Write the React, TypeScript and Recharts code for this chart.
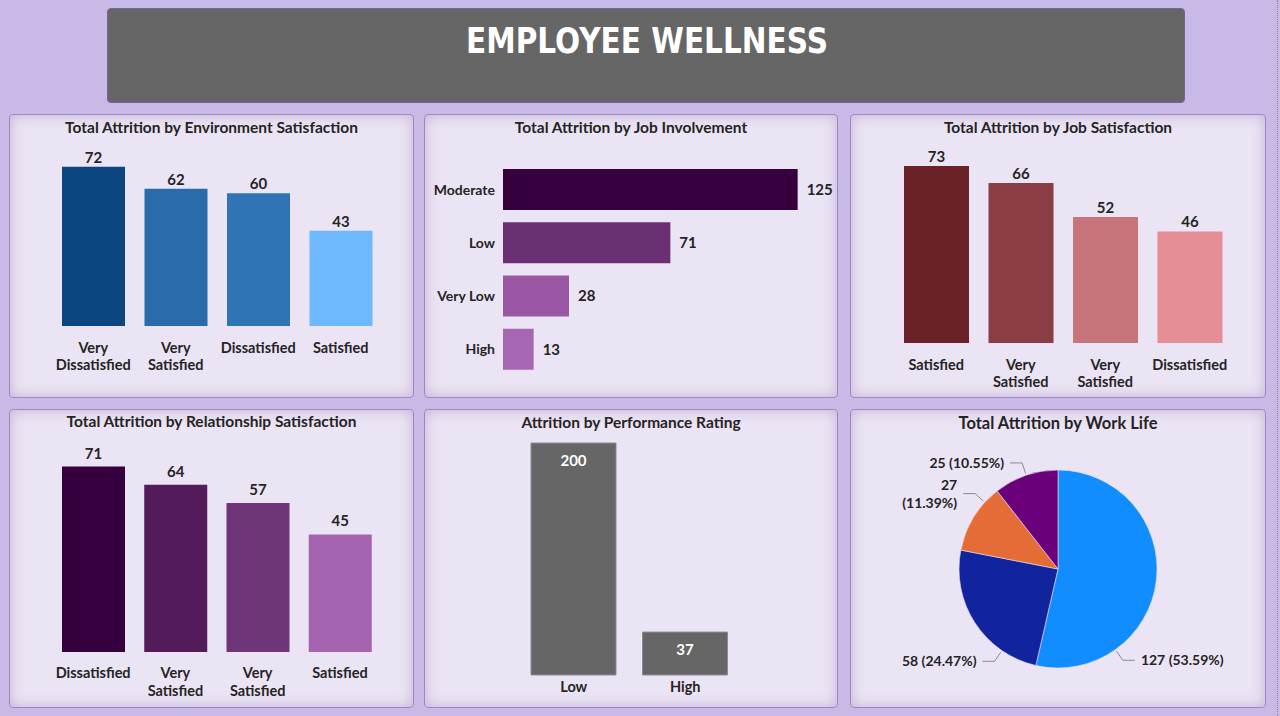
import { Bar, BarChart, Cell, LabelList, Pie, PieChart, XAxis, YAxis } from 'recharts'

// data
const envCategories = ['Very Dissatisfied', 'Very Satisfied', 'Dissatisfied', 'Satisfied']
const envValues = [72, 62, 60, 43]

const involvementCategories = ['Moderate', 'Low', 'Very Low', 'High']
const involvementValues = [125, 71, 28, 13]

const jobSatCategories = ['Satisfied', 'Very Satisfied', 'Very Satisfied', 'Dissatisfied']
const jobSatValues = [73, 66, 52, 46]

const relCategories = ['Dissatisfied', 'Very Satisfied', 'Very Satisfied', 'Satisfied']
const relValues = [71, 64, 57, 45]

const perfCategories = ['Low', 'High']
const perfValues = [200, 37]

const workLifeCategories = ['Better', 'Good', 'Best', 'Bad']
const workLifeValues = [127, 58, 27, 25]

// colours
const envColors = ['#0b4680', '#2a6cab', '#2f75b5', '#6eb8ff']
const involvementColors = ['#36003f', '#6b3074', '#9a58a4', '#a766b1']
const jobSatColors = ['#6a2128', '#8a3d45', '#c8747b', '#e58e96']
const relColors = ['#36003f', '#531b59', '#6f3579', '#a464af']
const workLifeColors = ['#118dff', '#12239e', '#e66c37', '#6b007b']

// label placement for the pie (degrees, 0 = right, counter-clockwise)
const pieLabelAngles = [-54.6, -124.5, 137.7, 108.7]
const pieLabelWrap = [false, false, true, false]

const toRows = (cats: string[], vals: number[]) =>
	cats.map((name, i) => ({ name, value: vals[i] }))

const TEXT = '#252423'
const FONT = 'Lato, "Open Sans", sans-serif'
const VALUE_SIZE = 15

const Panel = ({
	left,
	top,
	width,
	height,
	title,
	titleTop = 2,
	titleSize = 15.5,
	children,
}: {
	left: number
	top: number
	width: number
	height: number
	title: string
	titleTop?: number
	titleSize?: number
	children: React.ReactNode
}) => (
	<div
		style={{
			position: 'absolute',
			left,
			top,
			width,
			height,
			boxSizing: 'border-box',
			border: '1px solid #a284c8',
			borderRadius: 4,
			background: '#ebe4f5',
			boxShadow: 'inset 0 0 14px rgba(110, 90, 145, 0.35)',
		}}
	>
		<div
			style={{
				position: 'absolute',
				left: 0,
				right: 0,
				top: titleTop,
				textAlign: 'center',
				fontSize: titleSize,
				fontWeight: 700,
				color: TEXT,
				lineHeight: '20px',
			}}
		>
			{title}
		</div>
		<div style={{ position: 'absolute', left: 0, top: 0 }}>{children}</div>
	</div>
)

const StackedTick = (props: any) => {
	const { x, y, payload, firstDy, lineGap } = props
	const words = String(payload.value).split(' ')
	return (
		<text x={x} y={y} textAnchor='middle' fill={TEXT} fontSize={14.5} fontWeight={700}>
			{words.map((w, i) => (
				<tspan key={i} x={x} dy={i === 0 ? firstDy : lineGap}>
					{w}
				</tspan>
			))}
		</text>
	)
}

const ColumnChart = ({
	rows,
	colors,
	width,
	height,
	margin,
	axisHeight,
	max,
	barSize,
	labelOffset,
	firstDy,
	lineGap,
}: {
	rows: { name: string; value: number }[]
	colors: string[]
	width: number
	height: number
	margin: { top: number; right: number; left: number; bottom: number }
	axisHeight: number
	max: number
	barSize: number
	labelOffset: number
	firstDy: number
	lineGap: number
}) => (
	<BarChart width={width} height={height} data={rows} margin={margin}>
		<XAxis
			dataKey='name'
			height={axisHeight}
			tickLine={false}
			axisLine={false}
			tickSize={0}
			tickMargin={0}
			interval={0}
			tick={p => <StackedTick {...p} firstDy={firstDy} lineGap={lineGap} />}
		/>
		<YAxis hide width={0} domain={[0, max]} />
		<Bar dataKey='value' barSize={barSize} isAnimationActive={false}>
			{rows.map((r, i) => (
				<Cell key={i} fill={colors[i]} />
			))}
			<LabelList
				dataKey='value'
				position='top'
				offset={labelOffset}
				fill={TEXT}
				fontSize={VALUE_SIZE}
				fontWeight={700}
			/>
		</Bar>
	</BarChart>
)

const renderPieLabel = (props: any) => {
	const { cx, cy, outerRadius, index, value, percent } = props
	const a = (pieLabelAngles[index] * Math.PI) / 180
	const sx = cx + (outerRadius + 2) * Math.cos(a)
	const sy = cy - (outerRadius + 2) * Math.sin(a)
	const ex = cx + (outerRadius + 13) * Math.cos(a)
	const ey = cy - (outerRadius + 13) * Math.sin(a)
	const dir = Math.cos(a) >= 0 ? 1 : -1
	const hx = ex + dir * 12
	const tx = hx + dir * 6
	const pct = `(${(percent * 100).toFixed(2)}%)`
	const anchor = dir > 0 ? 'start' : 'end'
	return (
		<g key={`lbl-${index}`}>
			<polyline
				points={`${sx},${sy} ${ex},${ey} ${hx},${ey}`}
				fill='none'
				stroke='#8c8a90'
				strokeWidth={1}
			/>
			{pieLabelWrap[index] ? (
				<text x={tx} y={ey} textAnchor={anchor} fill={TEXT} fontSize={14} fontWeight={700}>
					<tspan x={tx} dy={-4}>
						{value}
					</tspan>
					<tspan x={tx} dy={18}>
						{pct}
					</tspan>
				</text>
			) : (
				<text
					x={tx}
					y={ey}
					dy={5}
					textAnchor={anchor}
					fill={TEXT}
					fontSize={14}
					fontWeight={700}
				>
					{`${value} ${pct}`}
				</text>
			)}
		</g>
	)
}

export default function App() {
	const envRows = toRows(envCategories, envValues)
	const involvementRows = toRows(involvementCategories, involvementValues)
	const jobSatRows = toRows(jobSatCategories, jobSatValues)
	const relRows = toRows(relCategories, relValues)
	const perfRows = toRows(perfCategories, perfValues)
	const workLifeRows = toRows(workLifeCategories, workLifeValues)

	return (
		<div
			style={{
				position: 'absolute',
				left: 0,
				top: 0,
				width: 1280,
				height: 716,
				overflow: 'hidden',
				background: '#c9b9e6',
				fontFamily: FONT,
			}}
		>
			{/* header */}
			<div
				style={{
					position: 'absolute',
					left: 107,
					top: 8,
					width: 1078,
					height: 95,
					boxSizing: 'border-box',
					background: '#666666',
					border: '1px solid #6f67a4',
					borderRadius: 4,
				}}
			>
				<svg width={1076} height={93} style={{ display: 'block' }}>
					<text
						x={539}
						y={44}
						textAnchor='middle'
						fill='#ffffff'
						fontSize={36}
						fontWeight={700}
						fontFamily='"Comic Sans MS", "DejaVu Sans", sans-serif'
						textLength={362}
						lengthAdjust='spacingAndGlyphs'
					>
						EMPLOYEE WELLNESS
					</text>
				</svg>
			</div>

			<div
				style={{
					position: 'absolute',
					left: 1277,
					top: 0,
					height: 716,
					borderLeft: '1px dotted #8a8a8a',
				}}
			/>

			<Panel left={9} top={114} width={405} height={284} title='Total Attrition by Environment Satisfaction'>
				<ColumnChart
					rows={envRows}
					colors={envColors}
					width={403}
					height={282}
					margin={{ top: 34, right: 31, left: 42, bottom: 0 }}
					axisHeight={71}
					max={80}
					barSize={63}
					labelOffset={4}
					firstDy={27}
					lineGap={17}
				/>
			</Panel>

			<Panel left={424} top={114} width={414} height={284} title='Total Attrition by Job Involvement'>
				<BarChart
					width={412}
					height={282}
					data={involvementRows}
					layout='vertical'
					margin={{ top: 48, right: 4, left: 0, bottom: 21 }}
				>
					<XAxis type='number' hide domain={[0, 140]} />
					<YAxis
						type='category'
						dataKey='name'
						width={78}
						tickLine={false}
						axisLine={false}
						tickSize={0}
						tickMargin={8}
						interval={0}
						tick={{ fill: TEXT, fontSize: 14, fontWeight: 700 }}
					/>
					<Bar dataKey='value' barSize={41} isAnimationActive={false}>
						{involvementRows.map((r, i) => (
							<Cell key={i} fill={involvementColors[i]} />
						))}
						<LabelList
							dataKey='value'
							position='right'
							offset={9}
							fill={TEXT}
							fontSize={VALUE_SIZE}
							fontWeight={700}
						/>
					</Bar>
				</BarChart>
			</Panel>

			<Panel left={850} top={114} width={416} height={284} title='Total Attrition by Job Satisfaction'>
				<ColumnChart
					rows={jobSatRows}
					colors={jobSatColors}
					width={414}
					height={282}
					margin={{ top: 34, right: 33, left: 43, bottom: 0 }}
					axisHeight={54}
					max={80}
					barSize={65}
					labelOffset={4}
					firstDy={27}
					lineGap={17}
				/>
			</Panel>

			<Panel left={9} top={409} width={405} height={299} title='Total Attrition by Relationship Satisfaction' titleTop={1}>
				<ColumnChart
					rows={relRows}
					colors={relColors}
					width={403}
					height={297}
					margin={{ top: 33, right: 32, left: 42, bottom: 0 }}
					axisHeight={55}
					max={80}
					barSize={63}
					labelOffset={8}
					firstDy={26}
					lineGap={18}
				/>
			</Panel>

			<Panel left={424} top={409} width={414} height={299} title='Attrition by Performance Rating'>
				<BarChart
					width={412}
					height={297}
					data={perfRows}
					margin={{ top: 33, right: 96, left: 93, bottom: 0 }}
				>
					<XAxis
						dataKey='name'
						height={32}
						tickLine={false}
						axisLine={false}
						tickSize={0}
						tickMargin={0}
						interval={0}
						tick={p => <StackedTick {...p} firstDy={17} lineGap={17} />}
					/>
					<YAxis hide width={0} domain={[0, 200]} />
					<Bar dataKey='value' barSize={85} fill='#666666' stroke='#8d8a94' strokeWidth={1} isAnimationActive={false}>
						<LabelList
							dataKey='value'
							position='insideTop'
							offset={12}
							fill='#ffffff'
							fontSize={VALUE_SIZE}
							fontWeight={700}
						/>
					</Bar>
				</BarChart>
			</Panel>

			<Panel left={850} top={409} width={416} height={299} title='Total Attrition by Work Life' titleTop={3} titleSize={16.5}>
				<PieChart width={414} height={297}>
					<Pie
						data={workLifeRows}
						dataKey='value'
						nameKey='name'
						cx={202}
						cy={154}
						outerRadius={99}
						startAngle={90}
						endAngle={-270}
						stroke='#e6e0f0'
						strokeWidth={0.6}
						label={renderPieLabel}
						labelLine={false}
						isAnimationActive={false}
					>
						{workLifeRows.map((r, i) => (
							<Cell key={i} fill={workLifeColors[i]} />
						))}
					</Pie>
				</PieChart>
			</Panel>
		</div>
	)
}
